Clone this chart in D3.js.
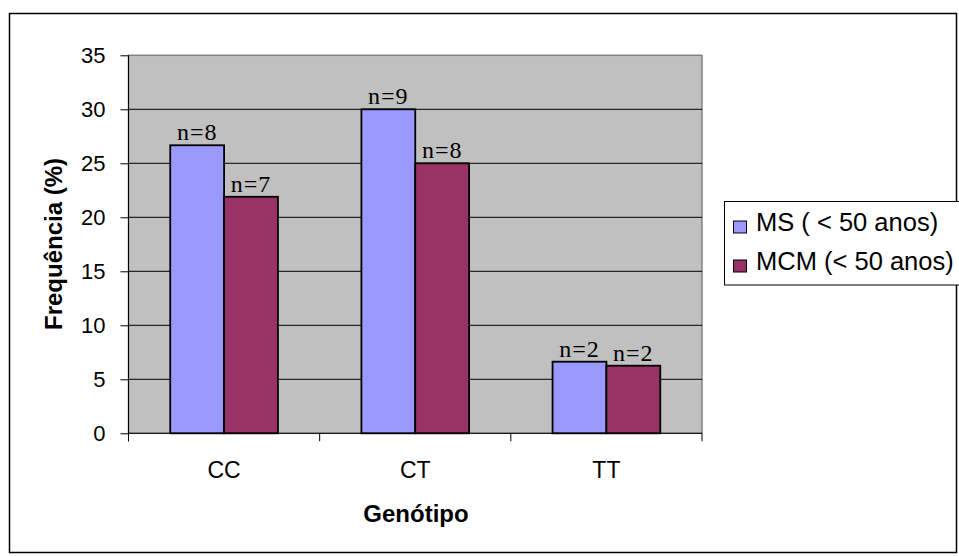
<!DOCTYPE html>
<html><head><meta charset="utf-8">
<script src="https://cdn.jsdelivr.net/npm/d3@7"></script>
<style>body{margin:0;background:#fff}svg{display:block}</style>
</head><body><svg id="c" width="959" height="556"></svg>
<script>
const categories = ["CC", "CT", "TT"];
const seriesNames = ["MS ( < 50 anos)", "MCM (< 50 anos)"];
const msValues = [26.67, 30.0, 6.63];
const mcmValues = [21.9, 25.0, 6.26];
const msLabels = ["n=8", "n=9", "n=2"];
const mcmLabels = ["n=7", "n=8", "n=2"];
const yTicks = [0, 5, 10, 15, 20, 25, 30, 35];
const colors = ["#9999FF", "#993366"];

const SANS = "Liberation Sans, Arial, sans-serif";
const SERIF = "Liberation Serif, Times New Roman, serif";
const svg = d3.select("#c");
const L = 128.5, R = 702, T = 55.3, B = 433.3;

svg.append("rect").attr("x", 9.5).attr("y", 13.5).attr("width", 947).attr("height", 539)
  .attr("fill", "#fff").attr("stroke", "#000").attr("stroke-width", 1.5);

const x = d3.scaleBand().domain(categories).range([L, R]);
const y = d3.scaleLinear().domain([0, 35]).range([B, T]);
const barW = x.bandwidth() / 3.55;
const xs = d3.scaleBand().domain([0, 1]).range([0, barW * 2]);

svg.append("rect").attr("x", L).attr("y", T).attr("width", R - L).attr("height", B - T)
  .attr("fill", "#C0C0C0").attr("stroke", "#808080").attr("stroke-width", 1.5);

svg.append("g").selectAll("line").data(yTicks.filter(d => d > 0 && d < 35)).join("line")
  .attr("x1", L).attr("x2", R).attr("y1", d => y(d)).attr("y2", d => y(d))
  .attr("stroke", "#000").attr("stroke-width", 1);

const data = categories.map((c, i) => ({c, vals: [msValues[i], mcmValues[i]], labs: [msLabels[i], mcmLabels[i]]}));
const g = svg.append("g");
data.forEach(d => {
  [0, 1].forEach(s => {
    const bx = x(d.c) + (x.bandwidth() - barW * 2) / 2 + xs(s);
    g.append("rect").attr("x", bx).attr("y", y(d.vals[s])).attr("width", barW)
      .attr("height", B - y(d.vals[s])).attr("fill", colors[s]).attr("stroke", "#000").attr("stroke-width", 1.8);
    g.append("text").attr("x", bx + barW / 2).attr("y", y(d.vals[s]) - 5)
      .attr("text-anchor", "middle").attr("font-family", SERIF)
      .attr("font-size", 24).attr("letter-spacing", 1).attr("fill", "#000").text(d.labs[s]);
  });
});

// y axis
const ya = svg.append("g").attr("transform", `translate(${L},0)`)
  .call(d3.axisLeft(y).tickValues(yTicks).tickSize(8).tickPadding(15));
ya.select(".domain").remove();
ya.selectAll("text").attr("font-family", SANS).attr("font-size", 22).attr("fill", "#000");
ya.selectAll("line").attr("stroke", "#000");
svg.append("line").attr("x1", L).attr("x2", L).attr("y1", T).attr("y2", B + 8).attr("stroke", "#000");

// x axis
const xa = svg.append("g").attr("transform", `translate(0,${B})`);
xa.append("line").attr("x1", L).attr("x2", R).attr("y1", 0).attr("y2", 0).attr("stroke", "#000");
const edges = categories.map(c => x(c)).concat([R]);
xa.selectAll("line.t").data(edges).join("line").attr("class", "t")
  .attr("x1", d => d).attr("x2", d => d).attr("y1", 0).attr("y2", 8).attr("stroke", "#000");
xa.selectAll("text").data(categories).join("text")
  .attr("x", d => x(d) + x.bandwidth() / 2).attr("y", 45)
  .attr("text-anchor", "middle").attr("font-family", SANS)
  .attr("font-size", 23).attr("fill", "#000").text(d => d);

svg.append("text").attr("x", 416).attr("y", 522).attr("text-anchor", "middle")
  .attr("font-family", SANS).attr("font-weight", "bold")
  .attr("font-size", 24).text("Genótipo");
svg.append("text").attr("transform", "translate(62,244) rotate(-90)").attr("text-anchor", "middle")
  .attr("font-family", SANS).attr("font-weight", "bold")
  .attr("font-size", 24).text("Frequência (%)");

// legend
const lg = svg.append("g");
lg.append("rect").attr("x", 724.5).attr("y", 201.5).attr("width", 240).attr("height", 83.5)
  .attr("fill", "#fff").attr("stroke", "#000").attr("stroke-width", 1);
seriesNames.forEach((n, i) => {
  const base = 231 + i * 39;
  lg.append("rect").attr("x", 733.5).attr("y", base - 10).attr("width", 13).attr("height", 12)
    .attr("fill", colors[i]).attr("stroke", "#000").attr("stroke-width", 1);
  lg.append("text").attr("x", 756).attr("y", base).attr("font-family", SANS)
    .attr("font-size", 25.5).attr("fill", "#000").text(n);
});
</script></body></html>
